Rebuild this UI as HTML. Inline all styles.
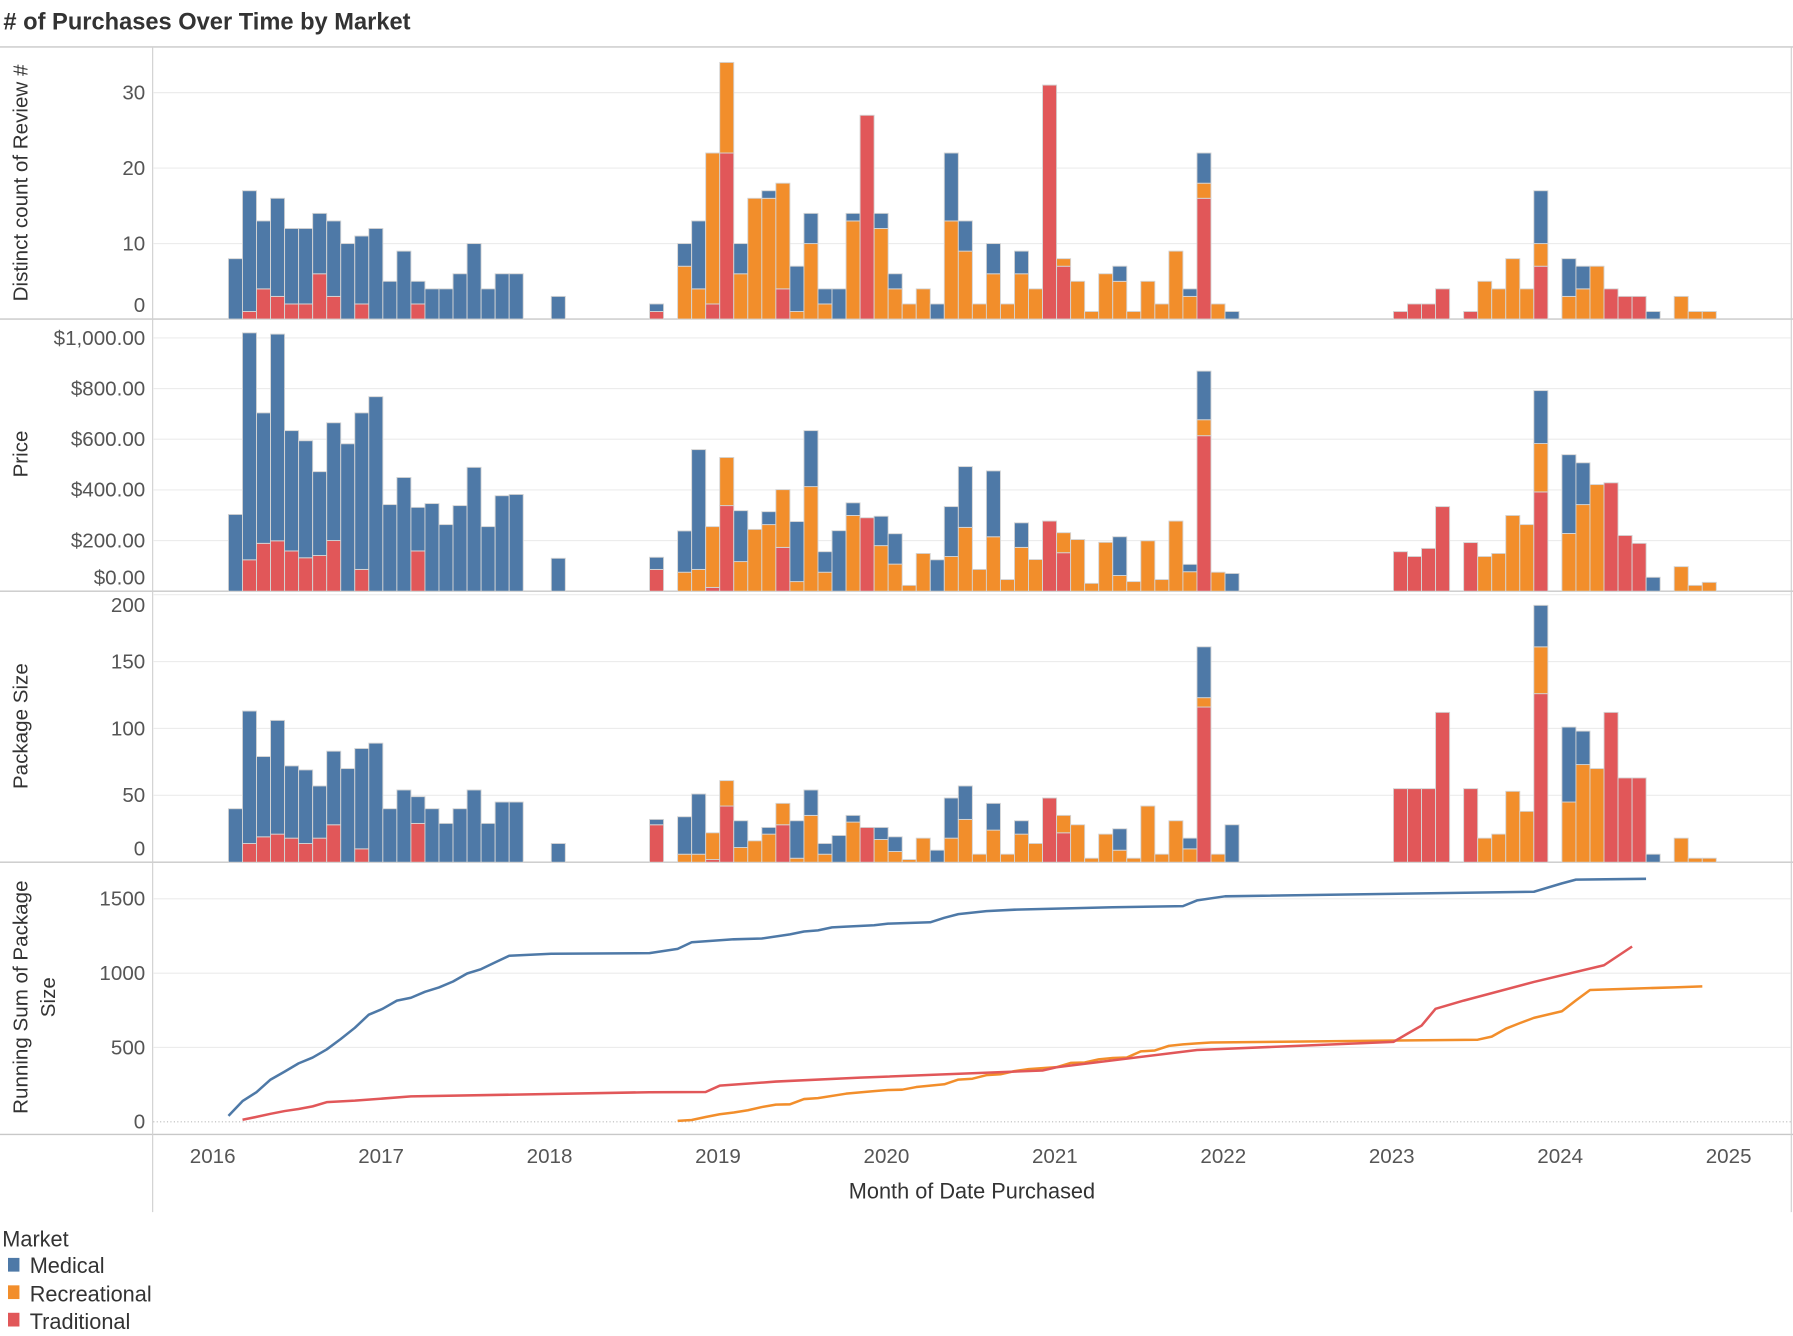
<!DOCTYPE html>
<html><head><meta charset="utf-8"><style>
html,body{margin:0;padding:0;background:#fff;}
svg{display:block;font-family:"Liberation Sans Narrow","Liberation Sans",sans-serif;}
</style></head><body>
<svg id="chart" width="1793" height="1336" viewBox="0 0 1568 1168.3" preserveAspectRatio="none" xmlns="http://www.w3.org/2000/svg">
<text x="3" y="26" font-size="21" fill="#333" font-weight="bold" textLength="356" lengthAdjust="spacingAndGlyphs"># of Purchases Over Time by Market</text>
<g id="frame"></g>
<g id="grid"></g>
<g id="bars"></g>
<g id="lines"></g>
<g id="labels"></g>
<text x="850" y="1048" font-size="19" fill="#333" text-anchor="middle">Month of Date Purchased</text>
<g>
<text x="2" y="1090" font-size="19" fill="#333">Market</text>
<rect x="7" y="1100" width="10" height="12" fill="#4e79a7"/>
<text x="26" y="1113" font-size="19" fill="#333">Medical</text>
<rect x="7" y="1124" width="10" height="12" fill="#f28e2b"/>
<text x="26" y="1138" font-size="19" fill="#333">Recreational</text>
<rect x="7" y="1148" width="10" height="12" fill="#e15759"/>
<text x="26" y="1162" font-size="19" fill="#333">Traditional</text>
</g>
</svg>
<script>
// month index: 0 = Jan 2016
const months = [1,2,3,4,5,6,7,8,9,10,11,12,13,14,15,16,17,18,19,20,21, 24,31,
 33,34,35,36,37,38,39,40,41,42, 43,44,45,46,47,48,49,50,51,52, 53,54,55,56,57,58,59,60,61,62, 63,64,65,66,67,68,69,70,71,72,
 84,85,86,87, 89,90,91,92,93,94, 96,97,98,99,100,101,102, 104,105,106];
const cntMed = [8,16,9,13,10,10,8,10,10,9,12,5,9,3,4,4,6,10,4,6,6, 3,1,
 3,9,0,0,4,0,1,0,6,4, 2,4,1,0,2,2,0,0,2,9, 4,0,4,0,3,0,0,0,0,0, 0,2,0,0,0,0,1,4,0,1,
 0,0,0,0, 0,0,0,0,0,7, 5,3,0,0,0,0,1, 0,0,0];
const cntRec = [0,0,0,0,0,0,0,0,0,0,0,0,0,0,0,0,0,0,0,0,0, 0,0,
 7,4,20,12,6,16,16,14,1,10, 2,0,13,0,12,4,2,4,0,13, 9,2,6,2,6,4,0,1,5,1, 6,5,1,5,2,9,3,2,2,0,
 0,0,0,0, 0,5,4,8,4,3, 3,4,7,0,0,0,0, 3,1,1];
const cntTrad = [0,1,4,3,2,2,6,3,0,2,0,0,0,2,0,0,0,0,0,0,0, 0,1,
 0,0,2,22,0,0,0,4,0,0, 0,0,0,27,0,0,0,0,0,0, 0,0,0,0,0,0,31,7,0,0, 0,0,0,0,0,0,0,16,0,0,
 1,2,2,4, 1,0,0,0,0,7, 0,0,0,4,3,3,0, 0,0,0];
const prMed = [303,896,515,816,475,462,331,465,582,618,768,342,449,172,346,263,338,489,255,377,382, 130,48,
 163,473,0,0,201,0,51,0,237,221, 81,239,50,0,116,120,0,0,124,197, 240,0,260,0,97,0,0,0,0,0, 0,153,0,0,0,0,29,192,0,70,
 0,0,0,0, 0,0,0,0,0,209, 311,165,0,0,0,0,55, 0,0,0];
const prRec = [0,0,0,0,0,0,0,0,0,0,0,0,0,0,0,0,0,0,0,0,0, 0,0,
 75,86,240,190,117,244,263,228,38,413, 75,0,299,0,180,107,23,149,0,137, 252,86,215,46,173,125,0,79,204,31, 193,62,38,199,46,277,77,63,75,0,
 0,0,0,0, 0,137,149,299,263,191, 228,342,421,0,0,0,0, 97,23,35];
const prTrad = [0,124,189,199,159,132,141,200,0,86,0,0,0,159,0,0,0,0,0,0,0, 0,86,
 0,0,15,338,0,0,0,173,0,0, 0,0,0,290,0,0,0,0,0,0, 0,0,0,0,0,0,277,152,0,0, 0,0,0,0,0,0,0,614,0,0,
 156,137,169,334, 192,0,0,0,0,392, 0,0,0,428,220,189,0, 0,0,0];
const pkMed = [40,99,60,85,54,55,39,55,70,75,89,40,54,20,40,29,40,54,29,45,45, 14,4,
 28,45,0,0,20,0,5,0,28,19, 8,20,5,0,9,11,0,0,9,30, 25,0,20,0,10,0,0,0,0,0, 0,16,0,0,0,0,8,38,0,28,
 0,0,0,0, 0,0,0,0,0,31, 56,25,0,0,0,0,6, 0,0,0];
const pkRec = [0,0,0,0,0,0,0,0,0,0,0,0,0,0,0,0,0,0,0,0,0, 0,0,
 6,6,20,19,11,16,21,16,3,35, 6,0,30,0,17,8,2,18,0,18, 32,6,24,6,21,14,0,13,28,3, 21,9,3,42,6,31,10,7,6,0,
 0,0,0,0, 0,18,21,53,38,35, 45,73,70,0,0,0,0, 18,3,3];
const pkTrad = [0,14,19,21,18,14,18,28,0,10,0,0,0,29,0,0,0,0,0,0,0, 0,28,
 0,0,2,42,0,0,0,28,0,0, 0,0,0,26,0,0,0,0,0,0, 0,0,0,0,0,0,48,22,0,0, 0,0,0,0,0,0,0,116,0,0,
 55,55,55,112, 55,0,0,0,0,126, 0,0,0,112,63,63,0, 0,0,0];
const yearLabels = ["2016","2017","2018","2019","2020","2021","2022","2023","2024","2025"];
const cntTicks = [0,10,20,30];
const priceTicks = [0,200,400,600,800,1000];
const pkTicks = [0,50,100,150,200];
const runTicks = [0,500,1000,1500];

const NS="http://www.w3.org/2000/svg";
const COL={Medical:"#4e79a7",Recreational:"#f28e2b",Traditional:"#e15759"};
function mk(tag,attrs,parent){const e=document.createElementNS(NS,tag);for(const k in attrs)e.setAttribute(k,attrs[k]);parent.appendChild(e);return e;}
const xMonth = m => 186 + m*12.275 + 1.5;
const panels = [
 {top:42,bottom:279,base:279,k:6.6,ticks:cntTicks,fmt:v=>String(v),series:[cntTrad,cntRec,cntMed],name:"count"},
 {top:279,bottom:517,base:517,k:0.2215,ticks:priceTicks,fmt:v=>"$"+v.toLocaleString("en-US",{minimumFractionDigits:2}),series:[prTrad,prRec,prMed],name:"price"},
 {top:517,bottom:754,base:754,k:1.17,ticks:pkTicks,fmt:v=>String(v),series:[pkTrad,pkRec,pkMed],name:"package-size"},
 {top:754,bottom:992,base:981,k:0.13,ticks:runTicks,fmt:v=>String(v),name:"running-sum"}
];
const names=["Traditional","Recreational","Medical"];
const frame=document.getElementById("frame"),grid=document.getElementById("grid"),bars=document.getElementById("bars"),lines=document.getElementById("lines"),labels=document.getElementById("labels");
[41,279,517,754,992].forEach(y=>{const l=mk("line",{x1:0,x2:1568,y1:y,y2:y,stroke:"#c8c8c8","stroke-width":1.2},frame);

});
const vl=mk("line",{x1:133.5,x2:133.5,y1:41,y2:1060,stroke:"#d0d0d0","stroke-width":1},frame);


const vr=mk("line",{x1:1566.5,x2:1566.5,y1:41,y2:1060,stroke:"#d0d0d0","stroke-width":1},frame);



panels.forEach((p,pi)=>{
 p.ticks.forEach(t=>{
  const y=p.base-t*p.k;
  if(t>0){const g=mk("line",{x1:134,x2:1566,y1:y,y2:y,stroke:"#ececec","stroke-width":1},grid);
   
   }
  let ly=y+6;
  if(ly>p.bottom-4) ly=p.bottom-6;
  if(ly-14<p.top) ly=p.top+18;
  const tx=mk("text",{x:127,y:ly,"font-size":18,fill:"#555","text-anchor":"end"},labels);
  tx.textContent=p.fmt(t);
  
  
 });
 if(p.series){
  months.forEach((m,i)=>{
   let acc=0;
   p.series.forEach((arr,si)=>{
    const v=arr[i]; if(!v) return;
    const y0=p.base-acc*p.k, y1=p.base-(acc+v)*p.k;
    const r=mk("rect",{x:xMonth(m),y:y1,width:12.275,height:y0-y1,fill:COL[names[si]],stroke:"#d4d4d4","stroke-width":0.8},bars);
    
    
    acc+=v;
   });
  });
 } else {
  const zl=mk("line",{x1:134,x2:1566,y1:p.base,y2:p.base,stroke:"#bbb","stroke-width":1,"stroke-dasharray":"1,2"},grid);
  
  
  [[pkMed,"Medical"],[pkRec,"Recreational"],[pkTrad,"Traditional"]].forEach(([arr,nm])=>{
   let sum=0;const pts=[];
   months.forEach((m,i)=>{if(arr[i]>0){sum+=arr[i];pts.push(xMonth(m).toFixed(1)+","+(p.base-sum*p.k).toFixed(1));}});
   const pl=mk("polyline",{points:pts.join(" "),fill:"none",stroke:COL[nm],"stroke-width":2.2,"stroke-linejoin":"round"},lines);
   
   
  });
 }
});
yearLabels.forEach((lab,i)=>{
 const t=mk("text",{x:186+i*147.3,y:1017,"font-size":18,fill:"#555","text-anchor":"middle"},labels);
 t.textContent=lab;
 
 
});
const titles=[["Distinct count of Review #",160,18],["Price",397,18],["Package Size",635,18],["Running Sum of Package",872,18],["Size",872,42]];
titles.forEach(([s,cy,cx])=>{
 const t=mk("text",{x:cx,y:cy,"font-size":18,fill:"#333","text-anchor":"middle",transform:"rotate(-90 "+cx+" "+cy+")",dy:"6"},labels);
 t.textContent=s;
 
 
});
</script>
</body></html>
